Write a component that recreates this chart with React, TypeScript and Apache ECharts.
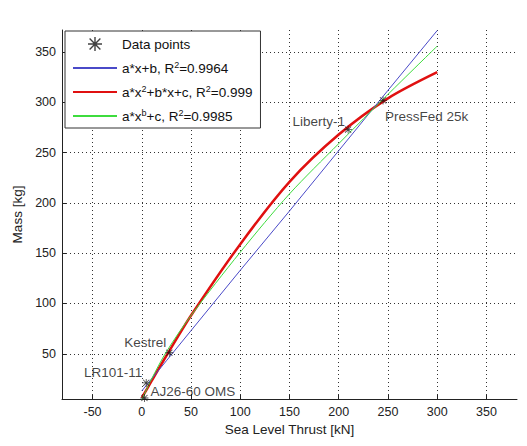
import React, { useEffect, useRef } from "react";
import * as echarts from "echarts";

// Data points (Sea level thrust [kN], mass [kg])
const engineNames = ["AJ26-60 OMS", "LR101-11", "Kestrel", "Liberty-1", "PressFed 25k"];
const engineThrust = [2.7, 4.5, 28, 209.5, 245];
const engineMass = [6, 21, 51, 273, 302];

// Fit curves
const fitX = [0, 10, 25, 50, 100, 150, 200, 250, 300];
const linearFit = [13, 25, 43, 73, 133, 192, 252, 312, 371.5];
const quadFit = [6, 23, 48, 88, 159, 221, 268, 304, 330];
const powerFit = [4, 25, 52, 88, 151, 209, 259, 308, 356];

const seriesNames = [
  "Data points",
  "a*x+b, R2=0.9964",
  "a*x2+b*x+c, R2=0.999",
  "a*xb+c, R2=0.9985",
];
const legendRich: Record<string, string> = {
  "Data points": "Data points",
  "a*x+b, R2=0.9964": "a*x+b, R{sup|2}=0.9964",
  "a*x2+b*x+c, R2=0.999": "a*x{sup|2}+b*x+c, R{sup|2}=0.999",
  "a*xb+c, R2=0.9985": "a*x{sup|b}+c, R{sup|2}=0.9985",
};

const labelPlacement: Record<string, { position: string; offset: number[] }> = {
  "AJ26-60 OMS": { position: "right", offset: [-3, -6] },
  "LR101-11": { position: "left", offset: [5, -10] },
  Kestrel: { position: "left", offset: [6, -10] },
  "Liberty-1": { position: "left", offset: [6, -8] },
  "PressFed 25k": { position: "right", offset: [-7, 16] },
};

const STAR =
  "path://M4.5,0H5.5V10H4.5Z M0,4.5H10V5.5H0Z M0.8,1.5L1.5,0.8L9.2,8.5L8.5,9.2Z M8.5,0.8L9.2,1.5L1.5,9.2L0.8,8.5Z";

const FONT = "'Liberation Sans', Arial, sans-serif";

export default function App() {
  const ref = useRef<HTMLDivElement>(null);
  useEffect(() => {
    if (!ref.current) return;
    const chart = echarts.init(ref.current, null, { renderer: "svg" });
    const pairs = (ys: number[]) => fitX.map((x, i) => [x, ys[i]]);
    const gridLine = { show: true, showMinLine: false, showMaxLine: false, lineStyle: { color: "#333", type: [1, 3], width: 1 } };
    chart.setOption({
      animation: false,
      backgroundColor: "#fff",
      textStyle: { fontFamily: FONT },
      grid: { left: 62, top: 30, right: 10, bottom: 47 },
      legend: {
        orient: "vertical",
        left: 65,
        top: 31,
        data: seriesNames.map((n, i) =>
          i === 0 ? { name: n } : { name: n, itemStyle: { opacity: 0 } }
        ),
        itemWidth: 44,
        itemHeight: 14,
        itemGap: 8,
        padding: [5, 8, 4, 7],
        borderColor: "#333",
        borderWidth: 1,
        backgroundColor: "#fff",
        selectedMode: false,
        formatter: (name: string) => legendRich[name],
        textStyle: {
          fontFamily: FONT,
          fontSize: 13.5,
          color: "#111",
          lineHeight: 16,
          rich: {
            sup: { fontSize: 9, verticalAlign: "top", lineHeight: 9, fontFamily: FONT, color: "#111" },
          },
        },
      },
      xAxis: {
        type: "value",
        min: -81,
        max: 381,
        splitNumber: 9,
        name: "Sea Level Thrust [kN]",
        nameLocation: "middle",
        nameGap: 23,
        nameTextStyle: { fontSize: 13.5, color: "#222", fontFamily: FONT },
        axisLine: { show: true, onZero: false, lineStyle: { color: "#222", width: 1 } },
        axisTick: { show: true, inside: true, length: 4, lineStyle: { color: "#222" } },
        axisLabel: { showMinLabel: false, showMaxLabel: false, fontSize: 12.5, color: "#222", margin: 6, fontFamily: FONT },
        splitLine: gridLine,
      },
      yAxis: {
        type: "value",
        min: 5,
        max: 372,
        splitNumber: 7,
        name: "Mass [kg]",
        nameLocation: "middle",
        nameGap: 32,
        nameTextStyle: { fontSize: 13.5, color: "#222", fontFamily: FONT },
        axisLine: { show: true, onZero: false, lineStyle: { color: "#222", width: 1 } },
        axisTick: { show: true, inside: true, length: 4, lineStyle: { color: "#222" } },
        axisLabel: { showMinLabel: false, showMaxLabel: false, fontSize: 12.5, color: "#222", margin: 6, fontFamily: FONT },
        splitLine: gridLine,
      },
      series: [
        {
          name: seriesNames[0],
          type: "scatter",
          z: 5,
          symbol: STAR,
          symbolSize: 8,
          itemStyle: { color: "#111" },
          data: engineNames.map((n, i) => ({
            name: n,
            value: [engineThrust[i], engineMass[i]],
            label: {
              show: true,
              formatter: "{b}",
              position: labelPlacement[n].position,
              offset: labelPlacement[n].offset,
              fontSize: 13.5,
              color: "#111",
              fontFamily: FONT,
            },
          })),
        },
        {
          name: seriesNames[1],
          type: "line",
          symbol: "none",
          z: 3,
          lineStyle: { color: "#4a4ac8", width: 1 },
          itemStyle: { color: "#4a4ac8" },
          data: pairs(linearFit),
        },
        {
          name: seriesNames[2],
          type: "line",
          symbol: "none",
          smooth: 0.3,
          z: 2,
          lineStyle: { color: "#e01010", width: 2.5 },
          itemStyle: { color: "#e01010" },
          data: pairs(quadFit),
        },
        {
          name: seriesNames[3],
          type: "line",
          symbol: "none",
          smooth: 0.3,
          z: 4,
          lineStyle: { color: "#3ddc3d", width: 1 },
          itemStyle: { color: "#3ddc3d" },
          data: pairs(powerFit),
        },
      ],
    });
    return () => chart.dispose();
  }, []);
  return (
    <div
      ref={ref}
      style={{ position: "fixed", left: 0, top: 0, width: 527, height: 446, background: "#fff" }}
    />
  );
}
